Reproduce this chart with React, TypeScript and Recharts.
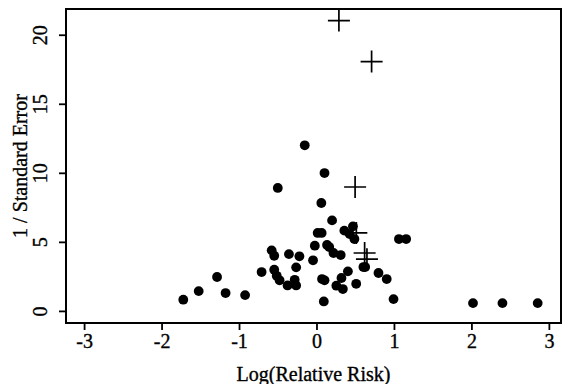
import React from 'react';
import { ScatterChart, Scatter, XAxis, YAxis, ReferenceArea } from 'recharts';

const xTicks = [-3, -2, -1, 0, 1, 2, 3];
const yTicks = [0, 5, 10, 15, 20];

const dotX = [
  -1.726, -1.527, -1.29, -1.18, -0.928, -0.715, -0.585, -0.552, -0.506, -0.552,
  -0.52, -0.483, -0.38, -0.362, -0.288, -0.269, -0.269, -0.227, -0.158, -0.051,
  -0.028, 0.009, 0.056, 0.06, 0.088, 0.065, 0.097, 0.097, 0.13, 0.195,
  0.158, 0.213, 0.25, 0.306, 0.316, 0.334, 0.353, 0.399, 0.422, 0.464,
  0.483, 0.506, 0.599, 0.622, 0.794, 0.9, 0.988, 1.058, 1.151, 2.014,
  2.394, 2.849,
];
const dotY = [
  0.85, 1.47, 2.49, 1.33, 1.18, 2.85, 4.42, 4.03, 8.94, 3.02,
  2.58, 2.25, 1.88, 4.15, 2.29, 1.88, 3.19, 3.99, 12.03, 3.7,
  4.76, 5.68, 7.85, 5.68, 0.72, 2.34, 2.25, 10.02, 4.81, 6.59,
  4.66, 4.23, 1.86, 4.08, 2.42, 1.62, 5.85, 2.9, 5.6, 6.16,
  5.24, 2.0, 3.21, 3.21, 2.78, 2.34, 0.89, 5.24, 5.24, 0.6,
  0.6, 0.6,
];
const plusX = [0.283, 0.705, 0.492, 0.508, 0.615, 0.645];
const plusY = [21.06, 18.09, 9.01, 5.68, 4.23, 3.78];

const dots = dotX.map((x, i) => ({ x, y: dotY[i] }));
const pluses = plusX.map((x, i) => ({ x, y: plusY[i] }));

const X_DOMAIN: [number, number] = [-3.24, 3.15];
const Y_DOMAIN: [number, number] = [-0.84, 21.9];
const FONT = '"Liberation Serif", "Times New Roman", Times, serif';
const textStyle = { fontFamily: FONT, fill: '#000', stroke: '#000', strokeWidth: 0.35 };

const Dot = (props: any) => {
  const { cx, cy } = props;
  if (cx == null || cy == null) return null;
  return <circle cx={cx} cy={cy} r={4.9} fill="#000" />;
};

const Plus = (props: any) => {
  const { cx, cy } = props;
  if (cx == null || cy == null) return null;
  const h = 11;
  return (
    <path
      d={`M${cx - h},${cy}H${cx + h}M${cx},${cy - h}V${cy + h}`}
      stroke="#000"
      strokeWidth={1.7}
      fill="none"
    />
  );
};

const XTick = (props: any) => {
  const { x, y, payload } = props;
  return (
    <text x={x} y={y + 14} textAnchor="middle" fontSize={20} style={textStyle}>
      {payload.value}
    </text>
  );
};

const YTick = (props: any) => {
  const { x, y, payload } = props;
  return (
    <text
      x={x}
      y={y}
      transform={`rotate(-90 ${x} ${y})`}
      textAnchor="middle"
      fontSize={20}
      style={textStyle}
    >
      {payload.value}
    </text>
  );
};

const YTitle = (props: any) => {
  const vb = props.viewBox || { x: 0, y: 9, width: 66, height: 314 };
  const x = vb.x + 27;
  const y = vb.y + vb.height / 2;
  return (
    <text
      x={x}
      y={y}
      transform={`rotate(-90 ${x} ${y})`}
      textAnchor="middle"
      fontSize={20}
      style={textStyle}
    >
      1 / Standard Error
    </text>
  );
};

const XTitle = (props: any) => {
  const vb = props.viewBox || { x: 66, y: 323, width: 495, height: 61 };
  return (
    <text
      x={vb.x + vb.width / 2}
      y={vb.y + vb.height - 3}
      textAnchor="middle"
      fontSize={20}
      style={textStyle}
    >
      Log(Relative Risk)
    </text>
  );
};

export default function App() {
  return (
    <div style={{ position: 'absolute', left: 0, top: 0, width: 563, height: 384, background: '#fff' }}>
      <ScatterChart width={563} height={384} margin={{ top: 9, right: 2, bottom: 0, left: 0 }}>
        <XAxis
          type="number"
          dataKey="x"
          domain={X_DOMAIN}
          ticks={xTicks}
          allowDataOverflow
          height={61}
          tickSize={7}
          tickMargin={4}
          axisLine={{ stroke: '#000', strokeWidth: 2 }}
          tickLine={{ stroke: '#000', strokeWidth: 1.8 }}
          tick={<XTick />}
          label={{ content: XTitle }}
        />
        <YAxis
          type="number"
          dataKey="y"
          domain={Y_DOMAIN}
          ticks={yTicks}
          allowDataOverflow
          width={66}
          tickSize={7}
          tickMargin={12}
          axisLine={{ stroke: '#000', strokeWidth: 2 }}
          tickLine={{ stroke: '#000', strokeWidth: 1.8 }}
          tick={<YTick />}
          label={{ content: YTitle }}
        />
        <ReferenceArea
          x1={X_DOMAIN[0]}
          x2={X_DOMAIN[1]}
          y1={Y_DOMAIN[0]}
          y2={Y_DOMAIN[1]}
          fill="none"
          fillOpacity={0}
          stroke="#000"
          strokeWidth={2}
        />
        <Scatter data={pluses} shape={<Plus />} isAnimationActive={false} />
        <Scatter data={dots} shape={<Dot />} isAnimationActive={false} />
      </ScatterChart>
    </div>
  );
}
